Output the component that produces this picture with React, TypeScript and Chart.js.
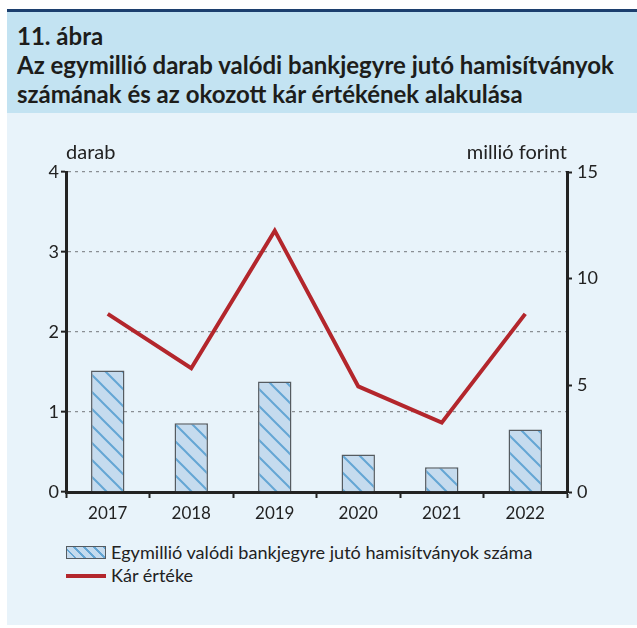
import React, { useEffect, useRef } from "react";
import { Chart, registerables } from "chart.js";

Chart.register(...registerables);

const years = ["2017", "2018", "2019", "2020", "2021", "2022"];
const counterfeitsPerMillion = [1.52, 0.86, 1.38, 0.47, 0.31, 0.78];
const damageMillionHuf = [8.35, 5.8, 12.25, 4.95, 3.25, 8.35];
const leftTicks = [0, 1, 2, 3, 4];
const rightTicks = [0, 5, 10, 15];

const titleLines = [
  "11. ábra",
  "Az egymillió darab valódi bankjegyre jutó hamisítványok",
  "számának és az okozott kár értékének alakulása",
];
const barLabel = "Egymillió valódi bankjegyre jutó hamisítványok száma";
const lineLabel = "Kár értéke";

const FONT = "Lato, 'Open Sans', sans-serif";
const HATCH_BG = "#c5dbee";
const HATCH_LINE = "#64a6d4";
const RED = "#b3262c";

function makeHatch(): CanvasPattern | string {
  const s = 17;
  const c = document.createElement("canvas");
  c.width = s;
  c.height = s;
  const g = c.getContext("2d");
  if (!g) return HATCH_BG;
  g.fillStyle = HATCH_BG;
  g.fillRect(0, 0, s, s);
  g.strokeStyle = HATCH_LINE;
  g.lineWidth = 2;
  g.beginPath();
  g.moveTo(-2, -2);
  g.lineTo(s + 2, s + 2);
  g.moveTo(-2, s - 2);
  g.lineTo(2, s + 2);
  g.moveTo(s - 2, -2);
  g.lineTo(s + 2, 2);
  g.stroke();
  const p = g.createPattern(c, "repeat");
  return p || HATCH_BG;
}

export default function App() {
  const ref = useRef<HTMLCanvasElement>(null);

  useEffect(() => {
    if (!ref.current) return;
    const hatch = makeHatch();
    const chart = new Chart(ref.current, {
      type: "bar",
      data: {
        labels: years,
        datasets: [
          {
            type: "line",
            label: lineLabel,
            data: damageMillionHuf,
            yAxisID: "y1",
            borderColor: RED,
            backgroundColor: RED,
            borderWidth: 4,
            pointRadius: 0,
            tension: 0,
            order: 0,
          } as any,
          {
            type: "bar",
            label: barLabel,
            data: counterfeitsPerMillion,
            yAxisID: "y",
            backgroundColor: hatch as any,
            borderColor: "#555b60",
            borderWidth: 1.5,
            barPercentage: 0.8,
            categoryPercentage: 0.5,
            order: 1,
          } as any,
        ],
      },
      options: {
        animation: false,
        responsive: false,
        maintainAspectRatio: false,
        layout: { padding: { top: 42, left: 0, right: 0, bottom: 0 } },
        plugins: {
          legend: { display: false },
          tooltip: { enabled: false },
          title: { display: false },
        },
        scales: {
          x: {
            type: "category",
            offset: true,
            grid: {
              offset: true,
              drawOnChartArea: false,
              drawTicks: true,
              tickLength: 6,
              tickColor: "#222",
              tickWidth: 2,
            },
            border: { display: true, color: "#222", width: 3 },
            ticks: {
              color: "#222",
              padding: 5,
              font: { family: FONT, size: 17 },
            },
            afterFit: (s: any) => {
              s.height = 28;
            },
          },
          y: {
            position: "left",
            min: 0,
            max: 4,
            afterBuildTicks: (s: any) => {
              s.ticks = leftTicks.map((v) => ({ value: v }));
            },
            grid: {
              drawOnChartArea: true,
              drawTicks: true,
              tickLength: 5,
              tickColor: "#222",
              tickWidth: 2,
              color: (ctx: any) => (ctx.tick && ctx.tick.value === 0 ? "rgba(0,0,0,0)" : "#8a8f94"),
              lineWidth: 1.3,
            },
            border: { display: true, color: "#222", width: 3, dash: [3, 4] },
            ticks: {
              color: "#222",
              padding: 2,
              font: { family: FONT, size: 18 },
            },
            afterFit: (s: any) => {
              s.width = 66;
            },
          },
          y1: {
            position: "right",
            min: 0,
            max: 15,
            afterBuildTicks: (s: any) => {
              s.ticks = rightTicks.map((v) => ({ value: v }));
            },
            grid: {
              drawOnChartArea: false,
              drawTicks: true,
              tickLength: 5,
              tickColor: "#222",
              tickWidth: 2,
            },
            border: { display: true, color: "#222", width: 3 },
            ticks: {
              color: "#222",
              padding: 5,
              font: { family: FONT, size: 18 },
            },
            afterFit: (s: any) => {
              s.width = 70;
            },
          },
        },
      } as any,
    });
    return () => chart.destroy();
  }, []);

  return (
    <div style={{ position: "relative", width: 637, height: 628, fontFamily: FONT }}>
      <style>{"body{margin:0;}"}</style>
      <div style={{ position: "absolute", left: 7, top: 9, width: 630, height: 3, background: "#1c3f6e" }} />
      <div
        style={{
          position: "absolute",
          left: 7,
          top: 12,
          width: 630,
          height: 101,
          background: "#c3e3f2",
        }}
      >
        <div
          style={{
            position: "absolute",
            left: 10,
            top: 9,
            fontWeight: 700,
            fontSize: 24,
            lineHeight: "29px",
            color: "#1d1d1b",
            whiteSpace: "nowrap",
          }}
        >
          {titleLines.map((t, i) => (
            <div key={i}>{t}</div>
          ))}
        </div>
      </div>
      <div
        style={{
          position: "absolute",
          left: 7,
          top: 113,
          width: 630,
          height: 512,
          background: "#e8f3fa",
        }}
      />
      <canvas
        ref={ref}
        width={637}
        height={390}
        style={{ position: "absolute", left: 0, top: 130, width: 637, height: 390 }}
      />
      <div style={{ position: "absolute", left: 66, top: 139, fontSize: 20, lineHeight: "24px", color: "#222" }}>darab</div>
      <div style={{ position: "absolute", right: 637 - 567, top: 139, fontSize: 20, lineHeight: "24px", color: "#222" }}>millió forint</div>
      <div style={{ position: "absolute", left: 66, top: 541, fontSize: 18.1, color: "#222", lineHeight: "23px" }}>
        <div style={{ display: "flex", alignItems: "center" }}>
          <span
            style={{
              display: "inline-block",
              width: 38,
              height: 11,
              border: "1px solid #555b60",
              marginRight: 5,
              background: `repeating-linear-gradient(45deg, ${HATCH_BG} 0px, ${HATCH_BG} 5px, ${HATCH_LINE} 5px, ${HATCH_LINE} 7px)`,
            }}
          />
          <span>{barLabel}</span>
        </div>
        <div style={{ display: "flex", alignItems: "center" }}>
          <span style={{ display: "inline-block", width: 40, height: 4, background: RED, marginRight: 5 }} />
          <span>{lineLabel}</span>
        </div>
      </div>
    </div>
  );
}
